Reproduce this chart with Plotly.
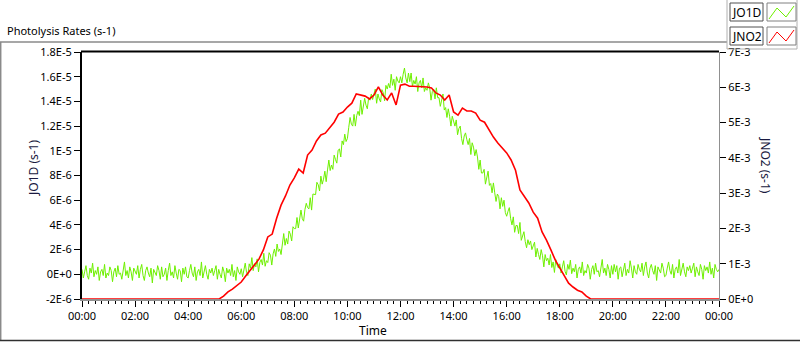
import plotly.graph_objects as go

# ---------------- data ----------------
# JO1D (units of 1E-6 s-1), one sample every 3 minutes from 00:00 to 24:00
jo1d_e6 = [
    # 00h
    0.4, -0.3, 0.2, 0.7, -0.1, -0.4, 0.5, 0.1, 0.9, -0.2, 0.3, 0.0, 0.6, -0.5, 0.2, 0.4, -0.1, 0.8, -0.3, 0.1,
    # 01h
    -0.1, 0.6, 0.3, -0.6, 0.2, 0.5, -0.2, 0.7, 0.0, 0.1, -0.4, 0.4, 1.0, -0.1, 0.3, -0.3, 0.6, 0.2, -0.5, 0.5,
    # 02h
    0.2, 0.0, 0.7, -0.3, 0.4, 0.8, -0.1, -0.5, 0.3, 0.6, 0.1, -0.2, 0.5, -0.7, 0.4, 0.2, -0.1, 0.7, 0.3, -0.4,
    # 03h
    0.6, -0.2, 0.0, 0.5, -0.5, 0.3, 0.9, -0.1, 0.2, -0.3, 0.7, 0.1, -0.4, 0.4, 0.3, -0.6, 0.5, 0.0, 0.6, -0.2,
    # 04h
    -0.3, 0.3, 0.8, 0.1, -0.2, 0.6, -0.5, 0.2, 0.4, -0.1, 1.0, -0.3, 0.3, 0.7, 0.0, -0.4, 0.4, 0.1, 0.5, -0.1,
    # 05h
    0.3, 0.7, -0.4, 0.4, 0.0, -0.3, 0.6, 0.2, -0.6, 0.5, 0.1, 0.4, -0.1, 0.8, -0.2, 0.3, -0.5, 0.6, 0.2, 0.0,
    # 06h
    0.45, -0.2, 0.35, 0.9, 0.15, -0.1, 0.85, 0.5, 1.35, 0.3, 0.85, 0.6, 1.25, 0.2, 0.95, 1.2, 0.75, 1.7, 0.65, 1.1,
    # 07h
    0.95, 1.75, 1.55, 0.75, 1.65, 2.05, 1.45, 2.45, 1.85, 2.05, 1.6, 2.55, 3.3, 2.35, 2.9, 2.45, 3.5, 3.25, 2.7, 3.85,
    # 08h
    3.7, 3.7, 4.6, 3.75, 4.65, 5.2, 4.5, 4.3, 5.25, 5.75, 5.4, 5.3, 6.2, 5.2, 6.5, 6.5, 6.45, 7.45, 7.25, 6.75,
    # 09h
    7.95, 7.3, 7.7, 8.35, 7.5, 8.45, 9.25, 8.4, 8.85, 8.5, 9.65, 9.3, 9.0, 10.05, 10.15, 9.5, 10.8, 10.5, 11.35, 10.75,
    # 10h
    11.0, 11.9, 12.7, 12.15, 12.0, 12.95, 12.0, 12.85, 13.2, 12.85, 14.1, 12.95, 13.7, 14.25, 13.7, 13.4, 14.3, 14.1, 14.6, 14.15,
    # 11h
    14.6, 15.0, 13.85, 14.6, 14.2, 13.95, 14.95, 14.7, 14.05, 15.3, 15.0, 15.45, 15.1, 16.2, 15.3, 15.8, 14.9, 16.0, 15.65, 15.5,
    # 12h
    16.0, 15.5, 16.2, 16.7, 15.9, 15.5, 16.3, 15.6, 16.3, 15.2, 15.7, 15.4, 16.0, 14.8, 15.5, 15.7, 15.1, 15.9, 14.8, 15.1,
    # 13h
    14.9, 15.5, 15.1, 14.1, 14.8, 15.0, 14.2, 15.1, 14.3, 14.3, 13.6, 14.2, 14.6, 13.3, 13.5, 12.7, 13.4, 12.8, 12.0, 12.8,
    # 14h
    12.4, 12.0, 12.5, 11.3, 11.8, 12.0, 11.0, 10.5, 11.2, 11.45, 10.9, 10.5, 11.0, 9.7, 10.65, 10.3, 9.6, 10.1, 9.5, 8.5,
    # 15h
    9.25, 8.2, 8.2, 8.5, 7.3, 7.9, 8.35, 7.2, 7.35, 6.6, 7.4, 6.6, 5.9, 6.5, 6.3, 5.3, 6.2, 5.5, 6.0, 5.0,
    # 16h
    4.7, 5.1, 5.4, 4.5, 4.0, 4.65, 3.4, 3.95, 3.95, 3.3, 4.2, 2.75, 3.2, 3.45, 2.65, 2.15, 2.8, 2.4, 2.7, 2.0,
    # 17h
    2.3, 2.6, 1.4, 2.1, 1.6, 1.2, 2.0, 1.5, 0.6, 1.6, 1.1, 1.3, 0.75, 1.6, 0.55, 1.0, 0.15, 1.2, 0.75, 0.5,
    # 18h
    0.85, 0.1, 0.6, 1.1, 0.25, -0.05, 0.8, 0.4, 1.15, 0.05, 0.5, 0.2, 0.8, -0.3, 0.4, 0.6, 0.1, 1.0, -0.1, 0.3,
    # 19h
    0.1, 0.8, 0.5, -0.4, 0.4, 0.7, 0.0, 0.9, 0.2, 0.3, -0.2, 0.6, 1.2, 0.1, 0.5, -0.1, 0.8, 0.4, -0.3, 0.7,
    # 20h
    0.0, 0.8, 0.2, 0.7, -0.4, 0.5, 0.6, -0.2, 0.3, 0.9, -0.1, 0.4, 0.1, 1.1, 0.5, -0.3, 0.7, 0.2, 0.0, 0.8,
    # 21h
    0.4, 0.2, 0.9, -0.1, 0.6, 1.0, 0.1, -0.3, 0.5, 0.8, 0.3, 0.0, 0.7, -0.5, 0.6, 0.4, 0.1, 0.9, 0.5, -0.2,
    # 22h
    -0.1, 0.5, 1.0, 0.3, 0.0, 0.8, -0.3, 0.4, 0.6, 0.1, 1.2, -0.1, 0.5, 0.9, 0.2, -0.2, 0.6, 0.3, 0.7, 0.1,
    # 23h
    0.5, 0.9, -0.2, 0.6, 0.2, -0.1, 0.8, 0.4, -0.4, 0.7, 0.3, 0.6, 0.1, 1.0, 0.0, 0.5, -0.3, 0.8, 0.4, 0.2,
    # 24:00
    0.4,
]
jo1d_minutes = list(range(0, 1441, 3))

# JNO2 (units of 1E-3 s-1)
jno2_minutes = [0] + list(range(310, 1151, 10)) + [1440]
jno2_e3 = [
    0.0,
    0.0, 0.08, 0.20, 0.28, 0.37,
    0.48, 0.65, 0.82, 0.96, 1.13, 1.39,
    1.76, 1.84, 2.29, 2.66, 2.92, 3.23,
    3.43, 3.68, 3.57, 4.08, 4.22, 4.48,
    4.65, 4.70, 4.87, 5.01, 5.24, 5.30,
    5.44, 5.55, 5.81, 5.78, 5.75, 5.67,
    5.78, 6.01, 5.78, 5.64, 5.84, 5.50,
    6.06, 6.09, 6.03, 6.03, 6.03, 6.03,
    6.01, 5.98, 5.84, 5.78, 5.64, 5.78,
    5.30, 5.21, 5.41, 5.33, 5.33, 5.27,
    5.07, 5.01, 4.79, 4.59, 4.42, 4.28,
    4.14, 3.94, 3.65, 3.09, 2.92, 2.72,
    2.46, 2.29, 1.90, 1.67, 1.39, 1.10,
    0.88, 0.65, 0.45, 0.34, 0.25, 0.20,
    0.08, 0.0,
    0.0,
]

x_tick_hours = [0, 2, 4, 6, 8, 10, 12, 14, 16, 18, 20, 22, 24]
x_tick_text = ["00:00", "02:00", "04:00", "06:00", "08:00", "10:00", "12:00",
               "14:00", "16:00", "18:00", "20:00", "22:00", "00:00"]
y1_tick_vals = [-2e-6, 0, 2e-6, 4e-6, 6e-6, 8e-6, 1e-5, 1.2e-5, 1.4e-5, 1.6e-5, 1.8e-5]
y1_tick_text = ["-2E-6", "0E+0", "2E-6", "4E-6", "6E-6", "8E-6", "1E-5",
                "1.2E-5", "1.4E-5", "1.6E-5", "1.8E-5"]
y2_tick_vals = [0, 1e-3, 2e-3, 3e-3, 4e-3, 5e-3, 6e-3, 7e-3]
y2_tick_text = ["0E+0", "1E-3", "2E-3", "3E-3", "4E-3", "5E-3", "6E-3", "7E-3"]

# ---------------- layout geometry (pixels) ----------------
W, H = 800, 342
L, R, T, B = 82, 719, 52, 299
FONT = "Noto Sans, Open Sans, sans-serif"
GREEN = "#6ef000"
RED = "#ff0000"


def px(x):
    return (x - L) / (R - L)


def py(y):
    return (B - y) / (B - T)


fig = go.Figure()
fig.add_trace(go.Scatter(
    x=[m / 60 for m in jo1d_minutes], y=[v * 1e-6 for v in jo1d_e6],
    mode="lines", line=dict(color=GREEN, width=1), name="JO1D", yaxis="y"))
fig.add_trace(go.Scatter(
    x=[m / 60 for m in jno2_minutes], y=[v * 1e-3 for v in jno2_e3],
    mode="lines", line=dict(color=RED, width=1.6), name="JNO2", yaxis="y2"))

tickfont = dict(family=FONT, size=11, color="#000000")

fig.update_layout(
    width=W, height=H,
    margin=dict(l=L, r=W - R, t=T, b=H - B, pad=0),
    paper_bgcolor="white", plot_bgcolor="white",
    showlegend=False,
    xaxis=dict(range=[0, 24], tickmode="array", tickvals=x_tick_hours, ticktext=x_tick_text,
               ticks="outside", ticklen=6, tickcolor="#000000", tickwidth=1,
               minor=dict(tickmode="linear", tick0=0, dtick=0.25, ticks="outside",
                          ticklen=3, tickcolor="#000000", tickwidth=1, showgrid=False),
               showline=True, linecolor="#909090", linewidth=2, showgrid=False,
               zeroline=False, tickfont=tickfont),
    yaxis=dict(range=[-2e-6, 1.8e-5], tickmode="array", tickvals=y1_tick_vals,
               ticktext=y1_tick_text, ticks="outside", ticklen=6, tickcolor="#000000",
               showline=True, linecolor="#000000", linewidth=2, showgrid=False,
               zeroline=False, tickfont=tickfont),
    yaxis2=dict(range=[0, 7e-3], overlaying="y", side="right", tickmode="array",
                tickvals=y2_tick_vals, ticktext=y2_tick_text, ticks="outside", ticklen=6,
                tickcolor="#000000", showline=True, linecolor="#909090", linewidth=1,
                showgrid=False, zeroline=False, tickfont=tickfont),
)

shapes = []
# top border of plot (black)
shapes.append(dict(type="line", xref="paper", yref="paper", x0=px(L - 1), x1=px(R), y0=py(T - 0.5), y1=py(T - 0.5),
                   line=dict(color="#000000", width=2)))
# outer frame
frame_col = "#8a8a8a"
shapes.append(dict(type="line", xref="paper", yref="paper", x0=px(0), x1=px(727), y0=py(42), y1=py(42),
                   line=dict(color=frame_col, width=1.5)))
shapes.append(dict(type="line", xref="paper", yref="paper", x0=px(0.7), x1=px(0.7), y0=py(42), y1=py(341),
                   line=dict(color=frame_col, width=1.5)))
shapes.append(dict(type="line", xref="paper", yref="paper", x0=px(0), x1=px(800), y0=py(340.5), y1=py(340.5),
                   line=dict(color="#303030", width=1.5)))
# legend frame
shapes.append(dict(type="line", xref="paper", yref="paper", x0=px(727), x1=px(727), y0=py(0), y1=py(49),
                   line=dict(color="#b0b0b0", width=1)))
shapes.append(dict(type="line", xref="paper", yref="paper", x0=px(727), x1=px(797), y0=py(49), y1=py(49),
                   line=dict(color="#b0b0b0", width=1)))
shapes.append(dict(type="line", xref="paper", yref="paper", x0=px(797), x1=px(797), y0=py(0), y1=py(49),
                   line=dict(color="#b0b0b0", width=1)))

legend_rows = [("JO1D", GREEN, 3), ("JNO2", RED, 27)]
annotations = []
for name, col, top in legend_rows:
    # label box
    shapes.append(dict(type="rect", xref="paper", yref="paper", x0=px(730), x1=px(763),
                       y0=py(top + 18), y1=py(top), line=dict(color="#505050", width=1),
                       fillcolor="white"))
    annotations.append(dict(text=name, xref="paper", yref="paper", x=px(746.5), y=py(top + 9),
                            xanchor="center", yanchor="middle", showarrow=False,
                            font=dict(family=FONT, size=12, color="#000000")))
    # swatch box
    shapes.append(dict(type="rect", xref="paper", yref="paper", x0=px(767), x1=px(796),
                       y0=py(top + 18), y1=py(top), line=dict(color="#808080", width=1),
                       fillcolor="white"))
    pts = [(769, top + 16), (777, top + 5), (786, top + 14), (794, top + 3)]
    path = "M " + " L ".join(f"{px(a)},{py(b)}" for a, b in pts)
    shapes.append(dict(type="path", xref="paper", yref="paper", path=path,
                       line=dict(color=col, width=1)))

# titles
annotations.append(dict(text="Photolysis Rates (s-1)", xref="paper", yref="paper",
                        x=px(5), y=py(31), xanchor="left", yanchor="middle", showarrow=False,
                        font=dict(family=FONT, size=11, color="#000000")))
annotations.append(dict(text="Time", xref="paper", yref="paper", x=px(373), y=py(330),
                        xanchor="center", yanchor="middle", showarrow=False,
                        font=dict(family=FONT, size=12, color="#000000")))
annotations.append(dict(text="JO1D (s-1)", xref="paper", yref="paper", x=px(33), y=py(168),
                        xanchor="center", yanchor="middle", showarrow=False, textangle=-90,
                        font=dict(family=FONT, size=12, color="#1a1a40")))
annotations.append(dict(text="JNO2 (s-1)", xref="paper", yref="paper", x=px(766), y=py(165),
                        xanchor="center", yanchor="middle", showarrow=False, textangle=90,
                        font=dict(family=FONT, size=12, color="#1a1a40")))

fig.update_layout(shapes=shapes, annotations=annotations)
fig.write_html("out.html", config={"displayModeBar": False},
               post_script="document.body.style.margin='0';document.body.style.overflow='hidden';")
